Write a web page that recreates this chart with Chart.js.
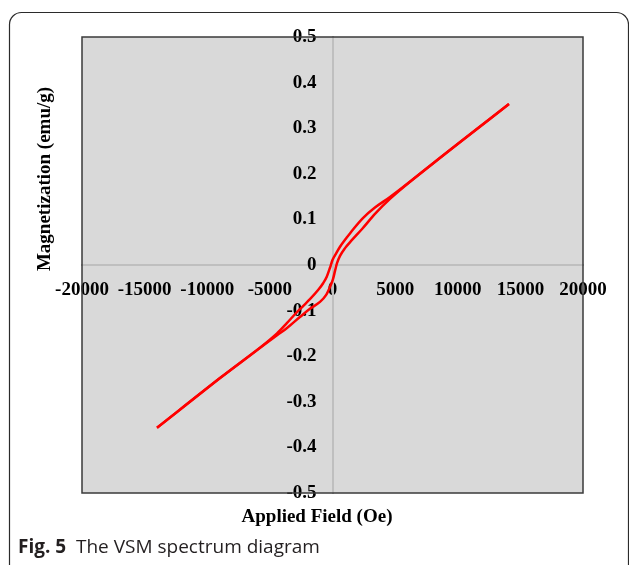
<!DOCTYPE html>
<html>
<head>
<meta charset="utf-8">
<script src="https://cdn.jsdelivr.net/npm/chart.js@4.4.0/dist/chart.umd.min.js"></script>
<style>
  html, body { margin: 0; padding: 0; background: #fff; }
  #wrap { width: 629px; height: 565px; position: relative; }
</style>
</head>
<body>
<div id="wrap"><canvas id="graficoVSM"></canvas></div>
<script>
// Ramo descendente (vindo de +H)
const campoDesc = [14090, 9380, 4590, 3390, 2430, 1640, 1080, 600, 280, 0, -200, -450, -750, -1150, -1800, -2350, -3000, -3630, -4430, -8980, -14010];
const magDesc   = [0.353, 0.252, 0.149, 0.126, 0.103, 0.078, 0.058, 0.040, 0.025, 0.011, -0.006, -0.025, -0.040, -0.055, -0.075, -0.090, -0.108, -0.127, -0.150, -0.248, -0.357];

// Ramo ascendente (vindo de -H)
const campoAsc = [-14010, -8980, -4430, -3630, -2600, -1800, -1000, -520, -200, 40, 200, 360, 600, 1000, 1560, 2360, 3390, 4590, 9380, 14090];
const magAsc   = [-0.357, -0.248, -0.154, -0.138, -0.114, -0.096, -0.081, -0.066, -0.048, -0.031, -0.013, 0.004, 0.020, 0.037, 0.055, 0.079, 0.112, 0.145, 0.252, 0.353];

// Marcas dos eixos
const ticksX = [-20000, -15000, -10000, -5000, 0, 5000, 10000, 15000, 20000];
const ticksY = [-0.5, -0.4, -0.3, -0.2, -0.1, 0, 0.1, 0.2, 0.3, 0.4, 0.5];

const tituloX = 'Applied Field (Oe)';
const tituloY = 'Magnetization (emu/g)';
const legendaFig = 'Fig. 5';
const legendaTexto = 'The VSM spectrum diagram';

const fonteSerif = "'Liberation Serif', 'Times New Roman', serif";
const fonteSans = "'Open Sans', 'Noto Sans', sans-serif";

function pontos(xs, ys) {
    return xs.map((x, i) => ({ x: x, y: ys[i] }));
}

// Plugin para o fundo cinza, a moldura e os textos fora do gráfico
const decoracao = {
    id: 'decoracao',
    beforeDraw(chart) {
        const { ctx, chartArea: a } = chart;
        ctx.save();
        ctx.fillStyle = '#d9d9d9';
        ctx.fillRect(a.left, a.top, a.right - a.left, a.bottom - a.top);
        ctx.restore();
    },
    beforeDatasetsDraw(chart) {
        const { ctx, chartArea: a } = chart;
        ctx.save();
        ctx.strokeStyle = '#3a3a3a';
        ctx.lineWidth = 1.5;
        ctx.strokeRect(a.left, a.top, a.right - a.left, a.bottom - a.top);
        ctx.restore();
    },
    afterDraw(chart) {
        const { ctx } = chart;
        ctx.save();

        // moldura arredondada da figura
        ctx.strokeStyle = '#2b2b2b';
        ctx.lineWidth = 1.2;
        ctx.beginPath();
        ctx.moveTo(9.5, 565);
        ctx.lineTo(9.5, 24);
        ctx.arcTo(9.5, 12.5, 21.5, 12.5, 12);
        ctx.lineTo(616, 12.5);
        ctx.arcTo(628.5, 12.5, 628.5, 24, 12);
        ctx.lineTo(628.5, 565);
        ctx.stroke();

        // títulos dos eixos
        ctx.fillStyle = '#000';
        ctx.font = 'bold 19px ' + fonteSerif;
        ctx.textAlign = 'center';
        ctx.textBaseline = 'middle';
        ctx.fillText(tituloX, 317, 517);

        ctx.translate(45, 179);
        ctx.rotate(-Math.PI / 2);
        ctx.fillText(tituloY, 0, 0);
        ctx.setTransform(1, 0, 0, 1, 0, 0);

        // legenda da figura
        ctx.fillStyle = '#231f20';
        ctx.textAlign = 'left';
        ctx.font = 'bold 19px ' + fonteSans;
        ctx.fillText(legendaFig, 18, 548);
        ctx.font = '19px ' + fonteSans;
        ctx.fillText(legendaTexto, 76, 548);
        ctx.restore();
    }
};

const estiloLinha = {
    showLine: true,
    borderColor: '#ff0000',
    backgroundColor: '#ff0000',
    borderWidth: 2.5,
    pointRadius: 0,
    cubicInterpolationMode: 'monotone',
    fill: false,
    yAxisID: 'y'
};

const fonteTicks = { family: fonteSerif, size: 19, weight: 'bold' };

const ctx = document.getElementById('graficoVSM').getContext('2d');
const graficoVSM = new Chart(ctx, {
    type: 'scatter',
    data: {
        datasets: [
            Object.assign({ label: 'Descendente', data: pontos(campoDesc, magDesc) }, estiloLinha),
            Object.assign({ label: 'Ascendente', data: pontos(campoAsc, magAsc) }, estiloLinha)
        ]
    },
    options: {
        responsive: true,
        maintainAspectRatio: false,
        animation: false,
        layout: {
            padding: { left: 82, right: 46, top: 37, bottom: 72 }
        },
        plugins: {
            legend: { display: false },
            tooltip: { enabled: false }
        },
        scales: {
            x: {
                type: 'linear',
                min: -20000,
                max: 20000,
                position: { y: 0 },
                grid: { display: false, drawTicks: false },
                border: { display: true, color: '#bfbfbf', width: 2 },
                afterBuildTicks: (s) => { s.ticks = ticksX.map(v => ({ value: v })); },
                afterFit: (s) => { s.height = 0; },
                ticks: {
                    autoSkip: false,
                    maxRotation: 0,
                    padding: 14,
                    color: '#000',
                    font: fonteTicks,
                    callback: (v) => String(v)
                }
            },
            // eixo só com os rótulos, um pouco à esquerda da linha vertical
            y: {
                type: 'linear',
                min: -0.5,
                max: 0.5,
                position: { x: -1280 },
                grid: { display: false, drawTicks: false },
                border: { display: false },
                afterBuildTicks: (s) => { s.ticks = ticksY.map(v => ({ value: v })); },
                afterFit: (s) => { s.width = 0; },
                ticks: {
                    autoSkip: false,
                    color: '#000',
                    font: fonteTicks,
                    callback: (v) => String(Number(v.toFixed(1)))
                }
            },
            // linha vertical do eixo em x = 0
            yLinha: {
                type: 'linear',
                min: -0.5,
                max: 0.5,
                position: { x: 0 },
                grid: { display: false, drawTicks: false },
                border: { display: true, color: '#bfbfbf', width: 2 },
                afterFit: (s) => { s.width = 0; },
                ticks: { display: false }
            }
        }
    },
    plugins: [decoracao]
});
</script>
</body>
</html>
